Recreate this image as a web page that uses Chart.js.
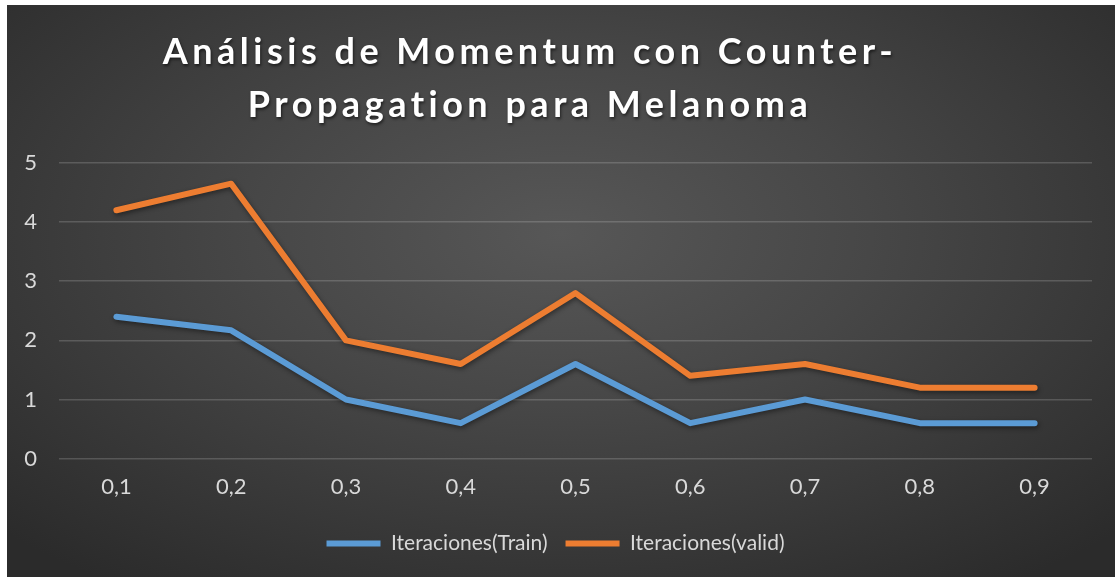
<!DOCTYPE html>
<html>
<head>
<meta charset="utf-8">
<script src="https://cdn.jsdelivr.net/npm/chart.js@4/dist/chart.umd.min.js"></script>
<style>
  html, body { margin: 0; padding: 0; background: #ffffff; width: 1117px; height: 577px; overflow: hidden; }
  #panel { position: absolute; left: 7px; top: 5px; width: 1108px; height: 572px;
    background: radial-gradient(ellipse 70% 75% at 50% 40%, #575757 0%, #474747 40%, #2b2b2b 100%); }
  #wrap { position: absolute; left: 0; top: 0; width: 1117px; height: 577px; }
  #title { position: absolute; left: -24px; top: 24px; width: 1108px; text-align: center;
    font-family: 'Lato', sans-serif; font-weight: 700; font-size: 36px; line-height: 53px;
    letter-spacing: 4.5px; color: #ffffff; text-shadow: 1px 2px 3px rgba(0,0,0,0.55); white-space: nowrap; }
</style>
</head>
<body>
<div id="panel"></div>
<div id="wrap"><canvas id="c" width="1117" height="577"></canvas></div>
<div id="title"></div>
<script>
const categories = ['0,1', '0,2', '0,3', '0,4', '0,5', '0,6', '0,7', '0,8', '0,9'];
const trainValues = [2.4, 2.17, 1.0, 0.6, 1.6, 0.6, 1.0, 0.6, 0.6];
const validValues = [4.2, 4.65, 2.0, 1.6, 2.8, 1.4, 1.6, 1.2, 1.2];
const seriesNames = ['Iteraciones(Train)', 'Iteraciones(valid)'];
const titleLines = ['Análisis de Momentum con Counter-', 'Propagation para Melanoma'];

const titleEl = document.getElementById('title');
titleLines.forEach(function (t) {
  const d = document.createElement('div');
  d.textContent = t;
  titleEl.appendChild(d);
});

const shadowPlugin = {
  id: 'lineShadow',
  beforeDatasetsDraw(chart) {
    const ctx = chart.ctx;
    ctx.save();
    ctx.shadowColor = 'rgba(0,0,0,0.45)';
    ctx.shadowBlur = 5;
    ctx.shadowOffsetX = 1;
    ctx.shadowOffsetY = 2;
  },
  afterDatasetsDraw(chart) {
    chart.ctx.restore();
  }
};

new Chart(document.getElementById('c'), {
  type: 'line',
  data: {
    labels: categories,
    datasets: [
      { label: seriesNames[0], data: trainValues, borderColor: '#5b9bd5', backgroundColor: '#5b9bd5',
        borderWidth: 6, pointRadius: 0, pointHoverRadius: 0, tension: 0, borderCapStyle: 'round', borderJoinStyle: 'round' },
      { label: seriesNames[1], data: validValues, borderColor: '#ed7d31', backgroundColor: '#ed7d31',
        borderWidth: 6, pointRadius: 0, pointHoverRadius: 0, tension: 0, borderCapStyle: 'round', borderJoinStyle: 'round' }
    ]
  },
  options: {
    responsive: false,
    animation: false,
    events: [],
    layout: { padding: { left: 19, right: 25, top: 163, bottom: 13 } },
    scales: {
      x: {
        offset: true,
        grid: { display: false, drawTicks: false },
        border: { display: false },
        ticks: { color: '#d9d9d9', font: { family: 'Lato', size: 22 }, padding: 15, maxRotation: 0 }
      },
      y: {
        min: 0, max: 5,
        ticks: { stepSize: 1, color: '#d9d9d9', font: { family: 'Lato', size: 22 }, padding: 22 },
        grid: { color: 'rgba(255,255,255,0.17)', lineWidth: 1.5, drawTicks: false },
        border: { display: false },
        afterFit(scale) { scale.width = 40; }
      }
    },
    plugins: {
      title: { display: false },
      legend: {
        position: 'bottom',
        labels: {
          usePointStyle: true,
          pointStyle: 'line',
          pointStyleWidth: 54,
          boxHeight: 6,
          color: '#d9d9d9',
          font: { family: 'Lato', size: 21 },
          padding: 18
        }
      },
      tooltip: { enabled: false }
    }
  },
  plugins: [shadowPlugin]
});
</script>
</body>
</html>
